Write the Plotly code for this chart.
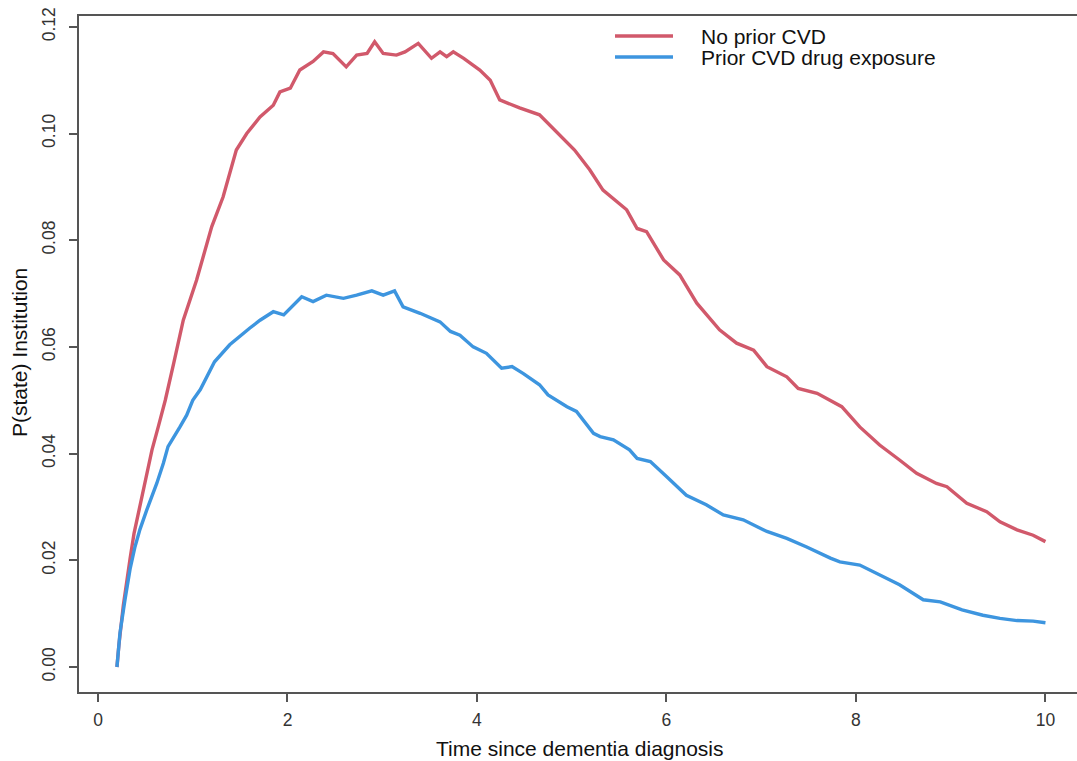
import plotly.graph_objects as go

# Data
time_no_cvd = [0.20, 0.22, 0.267, 0.30, 0.34, 0.38, 0.43, 0.478, 0.57, 0.636, 0.71, 0.80, 0.90, 1.04,
               1.20, 1.32, 1.46, 1.57, 1.71, 1.85, 1.92, 2.03, 2.13, 2.27, 2.38, 2.48, 2.62, 2.73,
               2.84, 2.92, 3.01, 3.15, 3.24, 3.38, 3.52, 3.61, 3.68, 3.75, 3.86, 4.03, 4.14, 4.24,
               4.45, 4.66, 4.82, 5.03, 5.19, 5.33, 5.58, 5.69, 5.79, 5.97, 6.14, 6.32, 6.56, 6.74,
               6.92, 7.06, 7.27, 7.39, 7.59, 7.85, 8.04, 8.25, 8.46, 8.64, 8.85, 8.96, 9.17, 9.38,
               9.52, 9.70, 9.87, 10.0]
p_no_cvd = [0.0, 0.004, 0.0115, 0.016, 0.0205, 0.025, 0.029, 0.0335, 0.0407, 0.045, 0.050, 0.057, 0.065, 0.0725,
            0.0825, 0.0881, 0.0969, 0.1000, 0.1031, 0.1053, 0.1078, 0.1085, 0.1119, 0.1135, 0.1153, 0.1150, 0.1125, 0.1147,
            0.1150, 0.1172, 0.1150, 0.1147, 0.1153, 0.1169, 0.1141, 0.1153, 0.1144, 0.1153, 0.1141, 0.1119, 0.1100, 0.1063,
            0.1048, 0.1035, 0.1007, 0.0969, 0.0932, 0.0894, 0.0857, 0.0822, 0.0816, 0.0763, 0.0735, 0.0682, 0.0632, 0.0607,
            0.0594, 0.0563, 0.0544, 0.0522, 0.0513, 0.0488, 0.0450, 0.0416, 0.0388, 0.0363, 0.0344, 0.0338, 0.0307, 0.0291,
            0.0272, 0.0257, 0.0247, 0.0235]

time_prior = [0.20, 0.232, 0.285, 0.34, 0.39, 0.443, 0.514, 0.62, 0.69, 0.739, 0.865, 0.936, 1.0, 1.08,
              1.23, 1.39, 1.60, 1.71, 1.85, 1.96, 2.15, 2.27, 2.41, 2.59, 2.73, 2.89, 3.01, 3.13,
              3.22, 3.40, 3.61, 3.72, 3.82, 3.96, 4.10, 4.26, 4.37, 4.49, 4.66, 4.75, 4.95, 5.05,
              5.23, 5.30, 5.44, 5.61, 5.69, 5.83, 6.0, 6.21, 6.42, 6.60, 6.81, 7.06, 7.27, 7.48,
              7.73, 7.83, 8.04, 8.25, 8.46, 8.71, 8.89, 9.12, 9.34, 9.52, 9.70, 9.87, 10.0]
p_prior = [0.0, 0.0064, 0.0126, 0.0185, 0.0225, 0.0258, 0.0294, 0.0344, 0.0382, 0.0413, 0.045, 0.0472, 0.050, 0.052,
           0.0572, 0.0604, 0.0635, 0.065, 0.0666, 0.066, 0.0694, 0.0685, 0.0697, 0.0691, 0.0697, 0.0705, 0.0697, 0.0705,
           0.0675, 0.0663, 0.0647, 0.0629, 0.0622, 0.060, 0.0588, 0.056, 0.0563, 0.055, 0.0529, 0.051, 0.0488, 0.0479,
           0.0438, 0.0432, 0.0426, 0.0407, 0.0391, 0.0385, 0.0357, 0.0322, 0.0304, 0.0285, 0.0276, 0.0254, 0.0241, 0.0225,
           0.0204, 0.0197, 0.0191, 0.0172, 0.0154, 0.0126, 0.0122, 0.0107, 0.0097, 0.0091, 0.0087, 0.0086, 0.0083]

series_names = ["No prior CVD", "Prior CVD drug exposure"]
x_title = "Time since dementia diagnosis"
y_title = "P(state) Institution"
x_ticks = [0, 2, 4, 6, 8, 10]
y_ticks = [0.00, 0.02, 0.04, 0.06, 0.08, 0.10, 0.12]
y_tick_labels = ["0.00", "0.02", "0.04", "0.06", "0.08", "0.10", "0.12"]

RED = "#D1596B"
BLUE = "#3D95DF"
FONT = "Liberation Sans, Arial, sans-serif"

W, H = 1077, 761
ML, MR, MT, MB = 79, 0, 16, H - 692

pw = W - ML - MR
ph = H - MT - MB
def px_x(px):   # reference screen pixel -> paper x
    return (px - ML) / pw
def px_y(py):   # reference screen pixel -> paper y
    return (H - MB - py) / ph

fig = go.Figure()
fig.add_trace(go.Scatter(x=time_no_cvd, y=p_no_cvd, mode="lines", name=series_names[0],
                         line=dict(color=RED, width=3.4), showlegend=False))
fig.add_trace(go.Scatter(x=time_prior, y=p_prior, mode="lines", name=series_names[1],
                         line=dict(color=BLUE, width=3.4), showlegend=False))

# Legend drawn R-style (long line swatches)
for i, (name, col) in enumerate(zip(series_names, [RED, BLUE])):
    py = 36 + 21 * i
    fig.add_shape(type="line", xref="paper", yref="paper",
                  x0=px_x(615), x1=px_x(673), y0=px_y(py), y1=px_y(py),
                  line=dict(color=col, width=3.4))
    fig.add_annotation(xref="paper", yref="paper", x=px_x(699), y=px_y(py + 1),
                       text=name, showarrow=False, xanchor="left", yanchor="middle",
                       font=dict(family=FONT, size=21, color="#111"))

# Axis titles
fig.add_annotation(xref="paper", yref="paper", x=px_x(580), y=px_y(748),
                   text=x_title, showarrow=False, xanchor="center", yanchor="middle",
                   font=dict(family=FONT, size=21, color="#111"))
fig.add_annotation(xref="paper", yref="paper", x=px_x(19), y=px_y(353),
                   text=y_title, showarrow=False, xanchor="center", yanchor="middle", textangle=-90,
                   font=dict(family=FONT, size=21, color="#111"))

axis_common = dict(showgrid=False, zeroline=False, showline=True, linecolor="#555", linewidth=1.5,
                   ticks="outside", ticklen=8, tickwidth=1.5, tickcolor="#555",
                   tickfont=dict(family=FONT, size=17.5, color="#333"))

fig.update_layout(
    width=W, height=H,
    margin=dict(l=ML, r=MR, t=MT, b=MB, autoexpand=False),
    paper_bgcolor="white", plot_bgcolor="white",
    xaxis=dict(range=[-0.2005, 10.333], tickvals=x_ticks, mirror=True, ticklabelstandoff=3,
               **axis_common),
    yaxis=dict(range=[-0.00469, 0.12203], tickvals=y_ticks, ticktext=y_tick_labels, tickangle=-90,
               ticklabelstandoff=7, ticklabeloverflow="allow", **axis_common),
)

fig.write_html("out.html", config={"displayModeBar": False},
               post_script="document.body.style.margin='0';document.body.style.overflow='hidden';")
